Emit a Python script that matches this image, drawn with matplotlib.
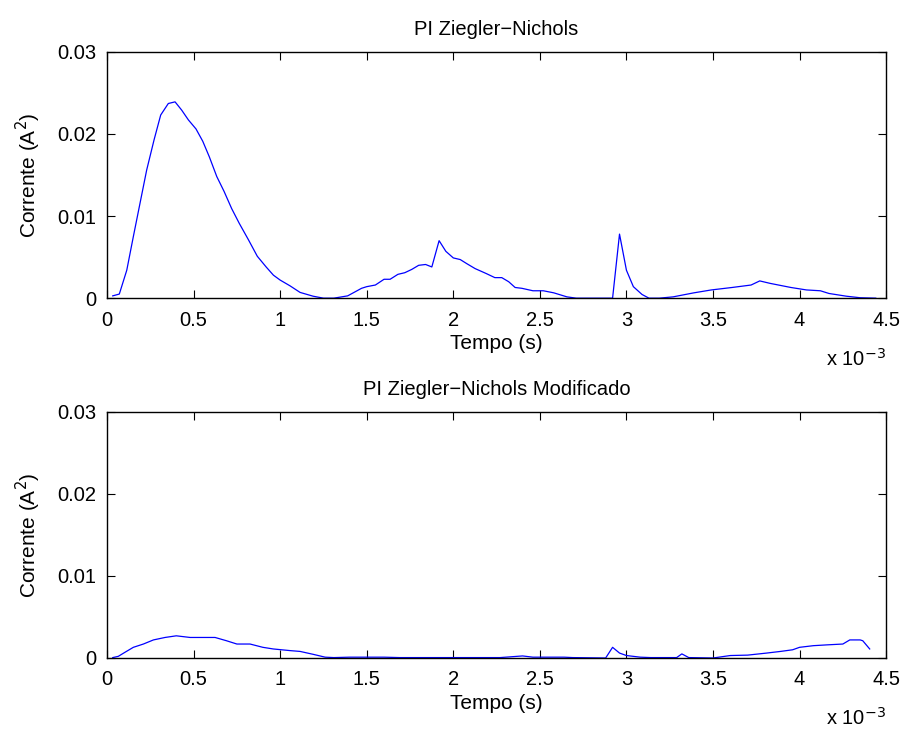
import matplotlib
matplotlib.use("Agg")
import matplotlib.pyplot as plt
from matplotlib.ticker import FixedLocator, FuncFormatter

plt.rcParams['font.family'] = ['Liberation Sans', 'DejaVu Sans']

# Time in units of 1e-3 s
t_zn = [0.033, 0.071, 0.114, 0.152, 0.19, 0.229, 0.272, 0.31, 0.354, 0.393, 0.431, 0.47,
        0.514, 0.553, 0.591, 0.634, 0.676, 0.72, 0.764, 0.817, 0.868, 0.919, 0.961, 1.0,
        1.057, 1.115, 1.19, 1.25, 1.31, 1.39, 1.47, 1.5, 1.55, 1.6, 1.635, 1.68, 1.72,
        1.76, 1.8, 1.84, 1.876, 1.918, 1.957, 2.0, 2.04, 2.078, 2.126, 2.19, 2.24, 2.28,
        2.32, 2.357, 2.396, 2.46, 2.52, 2.58, 2.656, 2.71, 2.85, 2.92, 2.96, 3.0, 3.04,
        3.09, 3.13, 3.19, 3.27, 3.39, 3.49, 3.61, 3.72, 3.77, 3.83, 3.95, 4.04, 4.12,
        4.17, 4.27, 4.35, 4.44]
i_zn = [0.00028, 0.0005, 0.0034, 0.0075, 0.0115, 0.0156, 0.0193, 0.0223, 0.0237, 0.0239,
        0.0229, 0.0217, 0.0206, 0.0191, 0.0172, 0.0148, 0.013, 0.0109, 0.0091, 0.0071,
        0.0051, 0.0038, 0.0028, 0.0022, 0.0015, 0.0007, 0.00024, 0.0, 0.0, 0.00028,
        0.0012, 0.0014, 0.0016, 0.0023, 0.0023, 0.0029, 0.0031, 0.0035, 0.004, 0.0041,
        0.0038, 0.0070, 0.0057, 0.0049, 0.0047, 0.0042, 0.0036, 0.003, 0.0025, 0.0025,
        0.002, 0.0013, 0.0012, 0.0009, 0.0009, 0.00065, 0.00016, 0.0, 0.0, 0.0, 0.0078,
        0.0034, 0.0014, 0.00045, 0.0, 0.0, 0.00016, 0.00065, 0.001, 0.0013, 0.0016,
        0.0021, 0.0018, 0.0013, 0.001, 0.0009, 0.00057, 0.00024, 0.00005, 0.0]

t_znm = [0.033, 0.065, 0.104, 0.152, 0.21, 0.268, 0.335, 0.4, 0.48, 0.537, 0.624, 0.69,
         0.75, 0.826, 0.9, 0.96, 1.057, 1.115, 1.19, 1.26, 1.31, 1.4, 1.5, 1.6, 1.69,
         1.89, 2.27, 2.4, 2.46, 2.64, 2.69, 2.88, 2.92, 2.96, 3.0, 3.08, 3.14, 3.29,
         3.32, 3.36, 3.5, 3.6, 3.7, 3.81, 3.89, 3.96, 4.0, 4.08, 4.16, 4.25, 4.29, 4.35,
         4.365, 4.405]
i_znm = [0.00005, 0.0002, 0.0007, 0.0013, 0.0017, 0.0022, 0.0025, 0.0027, 0.0025, 0.0025,
         0.0025, 0.0021, 0.0017, 0.0017, 0.0013, 0.0011, 0.0009, 0.0008, 0.00045, 0.0001,
         0.00005, 0.0001, 0.0001, 0.0001, 0.00005, 0.00005, 0.00005, 0.00025, 0.0001,
         0.0001, 0.00005, 0.0, 0.0013, 0.0006, 0.0003, 0.0001, 0.00005, 0.00005, 0.0005,
         0.00005, 0.0, 0.0003, 0.00035, 0.0006, 0.0008, 0.001, 0.0013, 0.0015, 0.0016,
         0.0017, 0.0022, 0.0022, 0.0021, 0.0011]

titles = ["PI Ziegler\u2212Nichols", "PI Ziegler\u2212Nichols Modificado"]
xlabel = "Tempo (s)"
ylabel = "Corrente (A$^2$)"
xticks = [0, 0.5, 1, 1.5, 2, 2.5, 3, 3.5, 4, 4.5]
yticks = [0, 0.01, 0.02, 0.03]
ytick_labels = ["0", "0.01", "0.02", "0.03"]

fig = plt.figure(figsize=(9.07, 7.29), dpi=100)
ax1 = fig.add_axes([0.118, 0.591, 0.859, 0.338])
ax2 = fig.add_axes([0.118, 0.0974, 0.859, 0.338])

fs = 14.5
for ax, t, y, title in [(ax1, t_zn, i_zn, titles[0]), (ax2, t_znm, i_znm, titles[1])]:
    ax.plot([v * 1e-3 for v in t], y, color='#0000ff', lw=0.9)
    ax.set_xlim(0, 4.5e-3)
    ax.set_ylim(0, 0.03)
    ax.xaxis.set_major_locator(FixedLocator([v * 1e-3 for v in xticks]))
    ax.xaxis.set_major_formatter(FuncFormatter(lambda v, p: f"{v*1e3:g}"))
    ax.set_yticks(yticks)
    ax.set_yticklabels(ytick_labels)
    ax.tick_params(direction='in', length=6, width=0.8, top=True, right=True,
                   labelsize=fs)
    ax.tick_params(axis='x', pad=9)
    ax.tick_params(axis='y', pad=8)
    for s in ax.spines.values():
        s.set_linewidth(1.0)
    ax.set_title(title, fontsize=fs, pad=12)
    ax.set_xlabel(xlabel, fontsize=fs + 0.5, labelpad=3)
    ax.set_ylabel(ylabel, fontsize=fs + 0.5, labelpad=10)
    ax.text(1.0, -0.2, r"x 10$^{-3}$", transform=ax.transAxes, ha='right', va='top',
            fontsize=fs)

fig.savefig("out.png", dpi=100)
